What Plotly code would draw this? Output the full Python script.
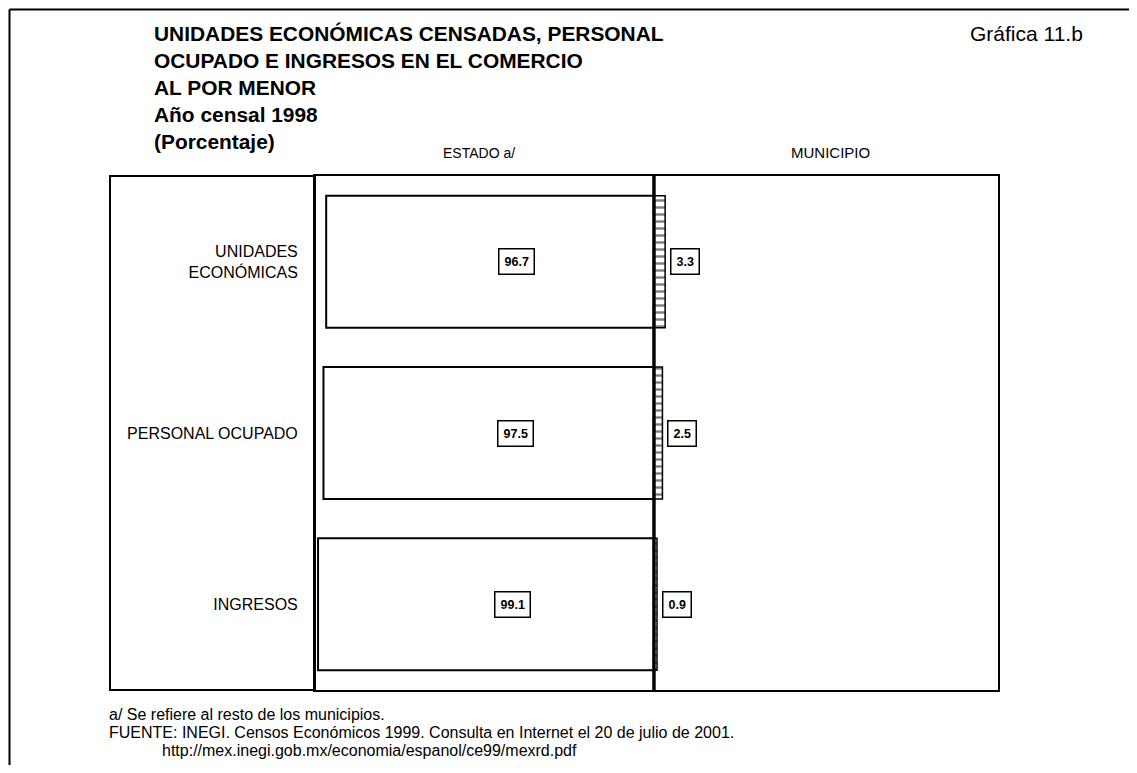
import plotly.graph_objects as go

categories = ["UNIDADES<br>ECONÓMICAS", "PERSONAL OCUPADO", "INGRESOS"]
estado = [96.7, 97.5, 99.1]
municipio = [3.3, 2.5, 0.9]

OFF = 8  # page body margin
W, H = 1137 - 2 * OFF, 773 - 2 * OFF
L, R, T, B = 315 - OFF, 998 - OFF, 176 - OFF, 690 - OFF  # plot area in figure pixels

def px(x):
    return (x - OFF - L) / (R - L)

def py(y):
    return (B - (y - OFF)) / (B - T)

FONT = "Liberation Sans, Arial, sans-serif"

fig = go.Figure()
fig.add_trace(go.Bar(
    y=categories, x=[-v for v in estado], orientation="h",
    marker=dict(color="white", line=dict(color="black", width=2)),
    width=0.77, showlegend=False, hoverinfo="skip"))
fig.add_trace(go.Bar(
    y=categories, x=municipio, orientation="h",
    marker=dict(color="white", line=dict(color="black", width=1.5),
                pattern=dict(shape="-", fgcolor="black", bgcolor="white", size=7, solidity=0.35)),
    width=0.77, showlegend=False, hoverinfo="skip"))

ann = []
for c, v in zip(categories, estado):
    ann.append(dict(x=-v * 0.42, y=c, xref="x", yref="y", text=f"<b>{v}</b>",
                    showarrow=False, bordercolor="black", borderwidth=1.5, borderpad=5,
                    bgcolor="white", font=dict(family=FONT, size=12.5, color="black")))
for c, v in zip(categories, municipio):
    ann.append(dict(x=v, y=c, xref="x", yref="y", text=f"<b>{v}</b>", xanchor="left",
                    xshift=5, showarrow=False, bordercolor="black", borderwidth=1.5, borderpad=5,
                    bgcolor="white", font=dict(family=FONT, size=12.5, color="black")))

title_lines = ["UNIDADES ECONÓMICAS CENSADAS, PERSONAL", "OCUPADO E INGRESOS EN EL COMERCIO",
               "AL POR MENOR", "Año censal 1998", "(Porcentaje)"]
for i, t in enumerate(title_lines):
    ann.append(dict(x=px(152), y=py(33 + 27.2 * i), xref="paper", yref="paper", text=f"<b>{t}</b>",
                    xanchor="left", yanchor="middle", showarrow=False,
                    font=dict(family=FONT, size=20.9, color="black")))
ann.append(dict(x=px(968), y=py(33), xref="paper", yref="paper", text="Gráfica 11.b",
                xanchor="left", yanchor="middle", showarrow=False,
                font=dict(family=FONT, size=21, color="black")))
ann.append(dict(x=px(479), y=py(153), xref="paper", yref="paper", text="ESTADO a/",
                xanchor="center", yanchor="middle", showarrow=False,
                font=dict(family=FONT, size=14, color="black")))
ann.append(dict(x=px(830), y=py(153), xref="paper", yref="paper", text="MUNICIPIO",
                xanchor="center", yanchor="middle", showarrow=False,
                font=dict(family=FONT, size=15, color="black")))
foot = [(107, 714, "a/ Se refiere al resto de los municipios."),
        (107, 732, "FUENTE: INEGI. Censos Económicos 1999. Consulta en Internet el 20 de julio de 2001."),
        (160, 750, "http://mex.inegi.gob.mx/economia/espanol/ce99/mexrd.pdf")]
for x, y, t in foot:
    ann.append(dict(x=px(x), y=py(y), xref="paper", yref="paper", text=t,
                    xanchor="left", yanchor="middle", showarrow=False,
                    font=dict(family=FONT, size=16, color="black")))

shapes = [
    dict(type="rect", xref="paper", yref="paper", x0=px(110), x1=0, y0=0, y1=1,
         line=dict(color="black", width=2)),
    dict(type="line", xref="paper", yref="paper", x0=px(9.5), x1=px(9.5), y0=py(9.5), y1=py(771),
         line=dict(color="black", width=2)),
    dict(type="line", xref="paper", yref="paper", x0=px(9.5), x1=px(1140), y0=py(9.5), y1=py(9.5),
         line=dict(color="black", width=2)),
    dict(type="line", xref="x", yref="paper", x0=0, x1=0, y0=0, y1=1,
         line=dict(color="black", width=3.5)),
]

fig.update_layout(
    width=W, height=H, margin=dict(l=L, r=W - R, t=T, b=H - B),
    paper_bgcolor="white", plot_bgcolor="white", barmode="relative",
    annotations=ann, shapes=shapes,
    font=dict(family=FONT, color="black"),
    xaxis=dict(range=[-100, 101.5], showticklabels=False, ticks="", showgrid=False,
               zeroline=False, showline=True, mirror=True, linecolor="black", linewidth=2),
    yaxis=dict(type="category", categoryorder="array", categoryarray=categories,
               autorange="reversed", ticks="", showgrid=False, zeroline=False,
               showline=True, mirror=True, linecolor="black", linewidth=2,
               ticklabelstandoff=12, tickfont=dict(family=FONT, size=16, color="black")),
)
fig.write_html("out.html")
